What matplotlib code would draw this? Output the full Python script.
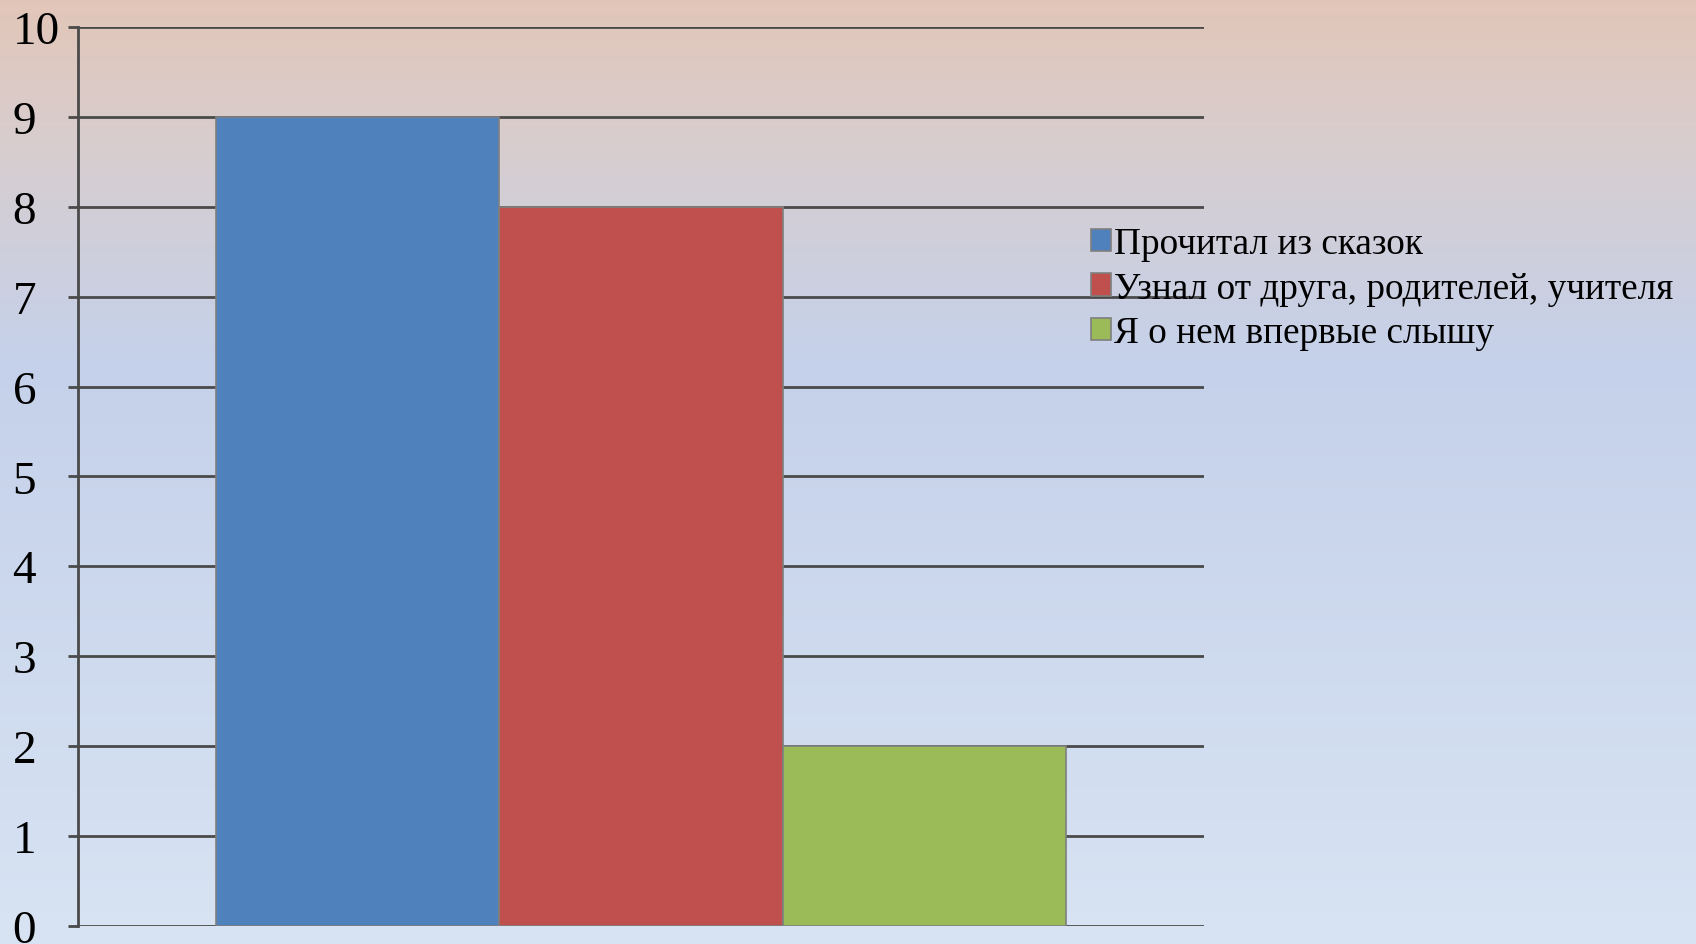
import matplotlib
matplotlib.use('Agg')
import matplotlib.pyplot as plt
import numpy as np

# data
series = ['Прочитал из сказок', 'Узнал от друга, родителей, учителя', 'Я о нем впервые слышу']
values = [9, 8, 2]
colors = ['#4F81BD', '#C0504D', '#9BBB59']
yticks = list(range(0, 11))

plt.rcParams['font.family'] = ['Liberation Serif', 'DejaVu Serif']

fig = plt.figure(figsize=(16.96, 9.45), dpi=100)

# gradient background
bg = fig.add_axes([0, 0, 1, 1], zorder=-1)
stops = np.array([0.0, 0.15, 0.38, 1.0])
cols = np.array([[226, 198, 184], [216, 205, 206], [197, 209, 234], [216, 227, 243]]) / 255.0
yy = np.linspace(0, 1, 400)
grad = np.stack([np.interp(yy, stops, cols[:, i]) for i in range(3)], axis=-1)
bg.imshow(grad[:, None, :], aspect='auto', extent=[0, 1, 1, 0])
bg.set_axis_off()

ax = fig.add_axes([0.0459, 0.0195, 0.6640, 0.9507])
ax.patch.set_alpha(0)
w = 1.0
for i, (name, v, c) in enumerate(zip(series, values, colors)):
    ax.bar(i - 1, v, width=w, color=c, edgecolor='#7f7f7f', linewidth=1.2, label=name, zorder=3)

ax.set_xlim(-1.987, 1.987)
ax.set_ylim(0, 10)
ax.set_yticks(yticks)
ax.set_xticks([])
ax.yaxis.grid(True, color='#4a4a4a', linewidth=2.0, zorder=0)
ax.set_axisbelow(True)
for s in ['top', 'right', 'bottom']:
    ax.spines[s].set_visible(False)
ax.spines['left'].set_color('#4a4a4a')
ax.spines['left'].set_linewidth(2.0)
ax.tick_params(axis='y', length=7, width=2.0, color='#4a4a4a', pad=40, labelsize=34)
for lab in ax.get_yticklabels():
    lab.set_horizontalalignment('left')

fig.legend(loc='upper left', bbox_to_anchor=(0.6345, 0.775), frameon=False,
           fontsize=26.8, handlelength=0.55, handleheight=0.55, handletextpad=0.08,
           labelspacing=0.27, borderaxespad=0)

fig.savefig('out.png', dpi=100)
